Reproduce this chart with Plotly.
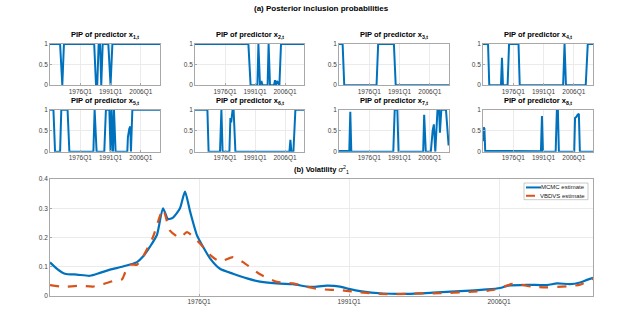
import plotly.graph_objects as go

# ---- data (decimal years, quarterly sample 1961Q1-2015Q2) ----
x1_t = [1961.0, 1966.0, 1967.1, 1967.9, 1982.9, 1983.8, 1984.4, 1985.1, 1985.8, 1986.4, 1987.1, 1989.9, 1991.0, 1991.9, 2015.5]
x1_p = [1, 1, 0, 1, 1, 0, 0, 1, 1, 0, 1, 1, 0, 1, 1]

x2_t = [1961.0, 1987.7, 1988.8, 1992.2, 1992.7, 1993.5, 1994.2, 1994.8, 1997.3, 1997.8, 1998.5, 2000.5, 2001.0, 2001.5, 2002.0, 2003.2, 2004.0, 2015.5]
x2_p = [1, 1, 0, 0, 1, 0, 0.1, 0, 0, 1, 0, 0, 0.12, 0, 0.1, 0, 1, 1]

x3_t = [1961.0, 1962.8, 1963.6, 1979.6, 1980.4, 1988.2, 1989.1, 2015.5]
x3_p = [1, 1, 0, 0, 1, 1, 0, 0]

x4_t = [1961.0, 1963.5, 1964.1, 1969.9, 1970.4, 1970.9, 1973.2, 1973.9, 1978.6, 1979.2, 2000.7, 2001.4, 2002.1, 2011.9, 2012.9, 2015.5]
x4_p = [1, 1, 0, 0, 0.67, 0, 0, 1, 1, 0, 0, 1, 0, 0, 1, 1]

x5_t = [1961.0, 1962.7, 1963.5, 1966.0, 1966.6, 1969.7, 1970.6, 1982.5, 1983.1, 1984.1, 1987.9, 1988.7, 1990.4, 1991.0, 1991.5, 1992.2, 1992.7, 1993.5,
        1999.3, 1999.6, 2000.3, 2000.8, 2001.1, 2001.8, 2015.5]
x5_p = [1, 1, 0, 0, 1, 1, 0, 0, 1, 0, 0, 1, 1, 0, 1, 0, 1, 0,
        0, 0.35, 0.55, 0.6, 0, 1, 1]

x6_t = [1961.0, 1967.2, 1967.8, 1973.5, 1974.2, 1974.8, 1978.2, 1978.7, 1979.1, 1979.8, 1980.3, 1981.2, 2008.2, 2008.7, 2009.2, 2010.2, 2011.2, 2015.5]
x6_p = [1, 1, 0, 0, 1, 0, 0, 0.8, 0.7, 1, 1, 0, 0, 0.28, 0, 0, 1, 1]

x7_t = [1961.0, 1966.1, 1966.6, 1967.1, 1987.9, 1988.6, 1989.9, 1990.5, 2002.7, 2003.2, 2004.0, 2006.5, 2007.4, 2008.0, 2008.7, 2009.8,
        2010.6, 2011.0, 2011.7, 2014.0, 2015.3]
x7_p = [0.02, 0.02, 0.95, 0, 0, 1, 1, 0, 0, 0.88, 0, 0, 0.5, 0.65, 0, 1,
        1, 0.45, 1, 1, 0.15]

x8_t = [1961.0, 1961.3, 1961.7, 1962.1, 1989.7, 1990.2, 1990.7, 1997.0, 1997.6, 1998.1, 1998.6, 2006.2, 2006.6, 2007.3, 2007.9, 2008.5, 2009.0, 2015.5]
x8_p = [0.25, 0.58, 0.55, 0.02, 0.01, 0.85, 0, 0, 1, 1, 0, 0, 0.8, 0.83, 0.88, 0.9, 0, 0]

mcmc_t = [1961.1, 1961.8, 1962.6, 1963.8, 1965.1, 1966.1, 1967.1, 1968.4, 1969.8, 1970.4, 1971.1, 1971.8, 1972.4, 1972.9, 1973.4,
          1974.1, 1974.6, 1975.1, 1975.8, 1976.4, 1977.1, 1978.1, 1979.4, 1980.8, 1982.1, 1984.1, 1985.4, 1986.8, 1987.4, 1988.8,
          1990.1, 1991.1, 1992.1, 1994.4, 1996.8, 1999.4, 2002.1, 2004.8, 2006.1, 2006.9, 2008.8, 2010.8, 2011.8, 2013.1, 2014.1,
          2014.8, 2015.4]
mcmc_v = [0.114, 0.092, 0.075, 0.072, 0.068, 0.078, 0.089, 0.100, 0.115, 0.134, 0.168, 0.209, 0.300, 0.263, 0.268,
          0.300, 0.357, 0.290, 0.207, 0.168, 0.128, 0.092, 0.075, 0.059, 0.048, 0.041, 0.039, 0.031, 0.030, 0.034,
          0.031, 0.022, 0.015, 0.007, 0.006, 0.010, 0.015, 0.021, 0.026, 0.034, 0.037, 0.036, 0.042, 0.039, 0.045,
          0.054, 0.061]

vbdvs_t = [1961.1, 1962.4, 1964.1, 1965.4, 1966.4, 1967.4, 1968.3, 1968.6, 1969.1, 1969.8, 1970.4, 1971.4, 1972.4, 1973.1,
           1974.1, 1974.8, 1976.1, 1977.1, 1978.1, 1979.4, 1980.4, 1982.1, 1983.8, 1985.4, 1986.8, 1988.1, 1990.4, 1992.1,
           1994.8, 1997.4, 2000.1, 2002.8, 2005.4, 2007.4, 2009.4, 2010.8, 2012.8, 2014.1, 2015.4]
vbdvs_v = [0.036, 0.030, 0.034, 0.031, 0.039, 0.050, 0.056, 0.078, 0.106, 0.106, 0.134, 0.201, 0.296, 0.223,
           0.199, 0.218, 0.179, 0.140, 0.117, 0.132, 0.115, 0.073, 0.047, 0.042, 0.030, 0.022, 0.018, 0.011,
           0.004, 0.007, 0.008, 0.012, 0.019, 0.040, 0.030, 0.028, 0.032, 0.037, 0.058]

series_names = ['MCMC estimate', 'VBDVS estimate']
tick_years = [1976, 1991, 2006]
tick_text = ['1976Q1', '1991Q1', '2006Q1']

BLUE = '#0072BD'
ORANGE = '#D95319'
W, H = 618, 324
FONT = 'Liberation Sans, Arial, sans-serif'
GREY = '#a8a8a8'

pip_t = [x1_t, x2_t, x3_t, x4_t, x5_t, x6_t, x7_t, x8_t]
pip_p = [x1_p, x2_p, x3_p, x4_p, x5_p, x6_p, x7_p, x8_p]

# pixel boxes of the small panels (left, right) and rows (top, bottom)
cols = [(50, 160), (195, 304), (339, 449), (483, 593)]
rows = [(41, 83), (108, 151)]

fig = go.Figure()
layout = {}
annotations = []
shapes = []


def axis_common():
    return dict(showline=True, mirror=True, linecolor=GREY, linewidth=0.8,
                ticks='inside', ticklen=2, tickcolor=GREY,
                showgrid=True, gridcolor='#ebebeb', gridwidth=0.6, zeroline=False,
                tickfont=dict(family=FONT, size=6.5, color='#404040'))


for i in range(8):
    r, c = divmod(i, 4)
    l, rr = cols[c]
    top, bot = rows[r]
    n = i + 1
    xa = 'xaxis' if n == 1 else f'xaxis{n}'
    ya = 'yaxis' if n == 1 else f'yaxis{n}'
    fig.add_trace(go.Scatter(x=pip_t[i], y=pip_p[i], mode='lines',
                             line=dict(color=BLUE, width=2),
                             xaxis=f'x{n}' if n > 1 else 'x', yaxis=f'y{n}' if n > 1 else 'y',
                             showlegend=False, hoverinfo='skip'))
    layout[xa] = dict(axis_common(), domain=[l / W, rr / W], range=[1961.0, 2015.5],
                      tickvals=tick_years, ticktext=tick_text, anchor=f'y{n}' if n > 1 else 'y')
    layout[ya] = dict(axis_common(), domain=[1 - bot / H, 1 - top / H], range=[0, 1],
                      tickvals=[0, 0.5, 1], ticktext=['0', '0.5', '1'], anchor=f'x{n}' if n > 1 else 'x')
    annotations.append(dict(text=f'<b>PIP of predictor x<sub>{n},t</sub></b>', xref='paper', yref='paper',
                            x=(l + rr) / 2 / W, y=1 - (top - 2) / H, xanchor='center', yanchor='bottom',
                            showarrow=False, font=dict(family=FONT, size=7.5, color='black')))

# bottom panel: volatility
fig.add_trace(go.Scatter(x=mcmc_t, y=mcmc_v, mode='lines', name=series_names[0],
                         line=dict(color=BLUE, width=2.2, shape='spline', smoothing=0.6),
                         xaxis='x9', yaxis='y9', showlegend=False))
fig.add_trace(go.Scatter(x=vbdvs_t, y=vbdvs_v, mode='lines', name=series_names[1],
                         line=dict(color=ORANGE, width=2.2, dash='dash', shape='spline', smoothing=0.6),
                         xaxis='x9', yaxis='y9', showlegend=False))
layout['xaxis9'] = dict(axis_common(), domain=[50 / W, 593 / W], range=[1961.1, 2015.4],
                        tickvals=tick_years, ticktext=tick_text, anchor='y9')
layout['yaxis9'] = dict(axis_common(), domain=[1 - 298 / H, 1 - 179 / H], range=[0, 0.4],
                        tickvals=[0, 0.1, 0.2, 0.3, 0.4], ticktext=['0', '0.1', '0.2', '0.3', '0.4'], anchor='x9')

# compact MATLAB-style legend (plotly's own legend rows are too tall here)
lx0, lx1, ly0, ly1 = 524, 588, 183, 200
shapes.append(dict(type='rect', xref='paper', yref='paper', x0=lx0 / W, x1=lx1 / W,
                   y0=1 - ly1 / H, y1=1 - ly0 / H, line=dict(color=GREY, width=0.6), fillcolor='white', layer='above'))
for k, (nm, col, dash) in enumerate(zip(series_names, [BLUE, ORANGE], ['solid', 'dash'])):
    yy = 1 - (187.5 + k * 8.5) / H
    shapes.append(dict(type='line', xref='paper', yref='paper', x0=526 / W, x1=541 / W, y0=yy, y1=yy,
                       line=dict(color=col, width=2, dash=dash), layer='above'))
    annotations.append(dict(text=nm, xref='paper', yref='paper', x=587 / W, y=yy, xanchor='right',
                            yanchor='middle', showarrow=False, font=dict(family=FONT, size=6, color='#202020')))

annotations.append(dict(text='<b>(a) Posterior inclusion probabilities</b>', xref='paper', yref='paper',
                        x=321 / W, y=1 - 5 / H, xanchor='center', yanchor='middle', showarrow=False,
                        font=dict(family=FONT, size=8, color='black')))
annotations.append(dict(text='<b>(b) Volatility </b><i>σ</i><sup>2</sup><sub>1</sub>', xref='paper', yref='paper',
                        x=321 / W, y=1 - 177 / H, xanchor='center', yanchor='bottom', showarrow=False,
                        font=dict(family=FONT, size=7.5, color='black')))

fig.update_layout(**layout)
fig.update_layout(
    width=W, height=H, margin=dict(l=0, r=0, t=0, b=0),
    paper_bgcolor='white', plot_bgcolor='white',
    annotations=annotations, shapes=shapes, showlegend=False,
)

fig.write_html("out.html", config={'displayModeBar': False},
               post_script="document.body.style.margin='0';document.body.style.overflow='hidden';")
